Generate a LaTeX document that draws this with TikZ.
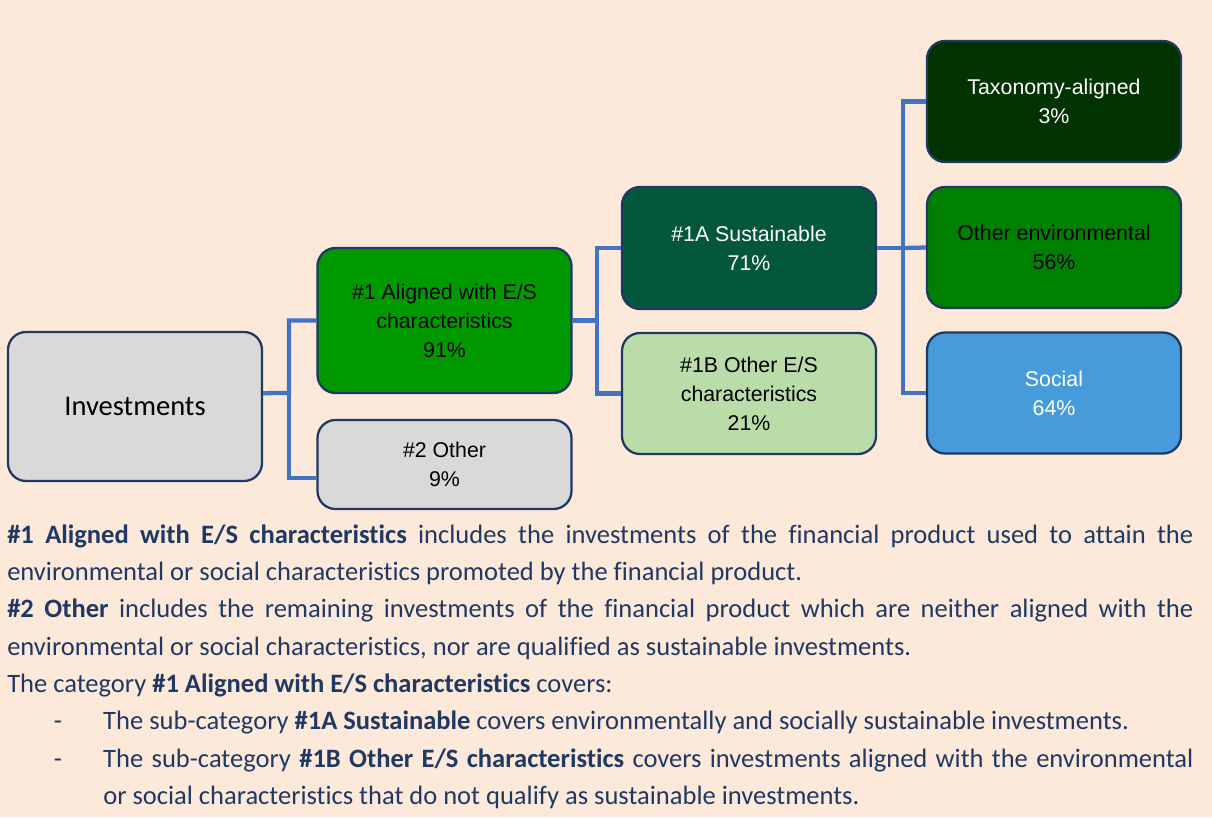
\documentclass[tikz,border=0pt]{standalone}
\usepackage{fontspec}
\setmainfont[Ligatures=NoCommon]{Carlito}
\newfontfamily\arialfont{Liberation Sans}

\definecolor{bgpeach}{HTML}{FDE9D9}
\definecolor{boxline}{HTML}{1F3864}
\definecolor{linkblue}{HTML}{4472C4}
\definecolor{textnavy}{HTML}{1F3864}
\definecolor{boxgray}{HTML}{D9D9D9}
\definecolor{alignedgreen}{HTML}{009900}
\definecolor{sustgreen}{HTML}{04573A}
\definecolor{othergreen}{HTML}{B9DCA8}
\definecolor{taxgreen}{HTML}{003300}
\definecolor{envgreen}{HTML}{008000}
\definecolor{socialblue}{HTML}{479BDA}

\begin{document}
\begin{tikzpicture}[x=0.75pt,y=-0.75pt,
	box/.style={draw=boxline, line width=1.7pt, rounded corners=13.5pt,
		minimum width=190.5pt, minimum height=90.75pt, align=center,
		inner sep=2pt, font=\arialfont\fontsize{16}{21.75}\selectfont},
	link/.style={draw=linkblue, line width=3.2pt},
	bodytext/.style={anchor=base west, inner sep=0pt, text=textnavy,
		text width=889.5pt, align=justify,
		font=\fontsize{19.9}{28}\selectfont}]
		\def\colL{135} % centre of the first column
		\def\colM{444.5} % centre of the second column
		\def\colR{749} % centre of the third column
		\def\colS{1054} % centre of the last column
		
		% Background
		\fill[bgpeach] (0,0) rectangle (1212,817);
		\useasboundingbox (0,0) rectangle (1212,817);
		
		% Boxes
		\node[box, fill=boxgray, minimum height=111.75pt,
			font=\fontsize{21.4}{26}\selectfont] (inv) at (\colL,406.5) {Investments};
		\node[box, fill=alignedgreen, minimum height=108.75pt] (al) at (\colM,320.5)
			{\#1 Aligned with E/S\\characteristics\\91\%};
		\node[box, fill=boxgray, minimum height=66.75pt] (oth) at (\colM,464.5)
			{\#2 Other\\9\%};
		\node[box, fill=sustgreen, text=white, minimum height=91.5pt] (sus) at (\colR,248)
			{\#1A Sustainable\\71\%};
		\node[box, fill=othergreen] (oes) at (\colR,393.5)
			{\#1B Other E/S\\characteristics\\21\%};
		\node[box, fill=taxgreen, text=white] (tax) at (\colS,101.5)
			{Taxonomy-aligned\\3\%};
		\node[box, fill=envgreen] (env) at (\colS,247.5)
			{Other environmental\\56\%};
		\node[box, fill=socialblue, text=white] (soc) at (\colS,393)
			{Social\\64\%};
		
		% Connectors
		\coordinate (j1) at (289,393);
		\coordinate (j2) at (597,320.5);
		\coordinate (j3) at (903,248);
		\draw[link] ([yshift=10pt]inv.east) -- (j1) |- (al.west);
		\draw[link] (j1) |- ([yshift=-10pt]oth.west);
		\draw[link] (al.east) -- (j2) |- (sus.west);
		\draw[link] (j2) |- (oes.west);
		\draw[link] (sus.east) -- (j3) |- (tax.west);
		\draw[link] (j3) -- (env.west);
		\draw[link] (j3) |- (soc.west);
		
		% Explanation below the chart
		\node[bodytext] (notes) at (7,543) {\hyphenpenalty=10000\exhyphenpenalty=10000
			\textbf{\#1 Aligned with E/S characteristics} includes the investments of the financial product used to attain the\linebreak
			environmental or social characteristics promoted by the financial product.\par
			\textbf{\#2 Other} includes the remaining investments of the financial product which are neither aligned with the\linebreak
			environmental or social characteristics, nor are qualified as sustainable investments.\par
			The category \textbf{\#1 Aligned with E/S characteristics} covers:\par
			{\leftskip=72pt
			\noindent\llap{-\hspace{31pt}}The sub-category \textbf{\#1A Sustainable} covers environmentally and socially sustainable investments.\par
			\noindent\llap{-\hspace{31pt}}The sub-category \textbf{\#1B Other E/S characteristics} covers investments aligned with the environmental\linebreak
			or social characteristics that do not qualify as sustainable investments.\par}
		};
	\end{tikzpicture}
\end{document}
